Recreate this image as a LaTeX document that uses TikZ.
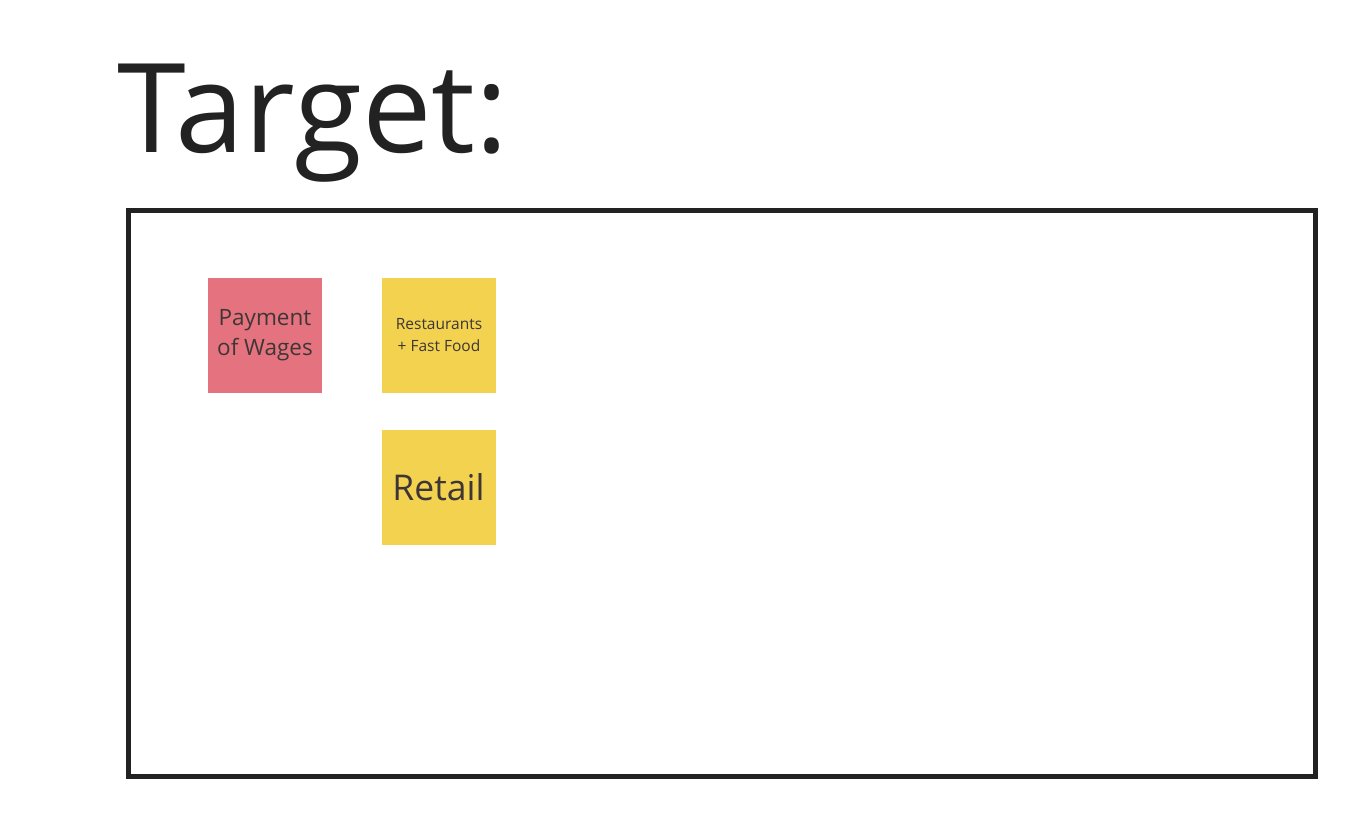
\documentclass[tikz,border=0pt]{standalone}
\usepackage{fontspec}
\setmainfont{Open Sans}
\definecolor{notepink}{HTML}{E5737F}
\definecolor{noteyellow}{HTML}{F2D24F}
\definecolor{inkdark}{HTML}{222222}
\definecolor{notetext}{HTML}{3E3636}
\begin{document}
\begin{tikzpicture}[x=1pt,y=-1pt,
  sticky/.style={draw=none,minimum width=114pt,minimum height=115pt,inner sep=0pt,align=center,text=notetext},
]
\useasboundingbox[fill=white] (0,0) rectangle (1370,830);
\node[anchor=base west,inner sep=0pt,text=inkdark,font=\fontsize{124}{140}\selectfont] (title) at (117,152) {Target:};
\draw[line width=5pt,draw=inkdark] (128.5,210.5) rectangle (1315.5,776.5);
\node[sticky,fill=notepink,font=\fontsize{22.5}{30}\selectfont] (wages) at (265,335) {Payment\\of Wages};
\node[sticky,fill=noteyellow,font=\fontsize{15.5}{22}\selectfont] (rest) at (439,335.5) {Restaurants\\+ Fast Food};
\node[sticky,fill=noteyellow,font=\fontsize{35.5}{40}\selectfont] (retail) at (438.5,487) {Retail};
\end{tikzpicture}
\end{document}
